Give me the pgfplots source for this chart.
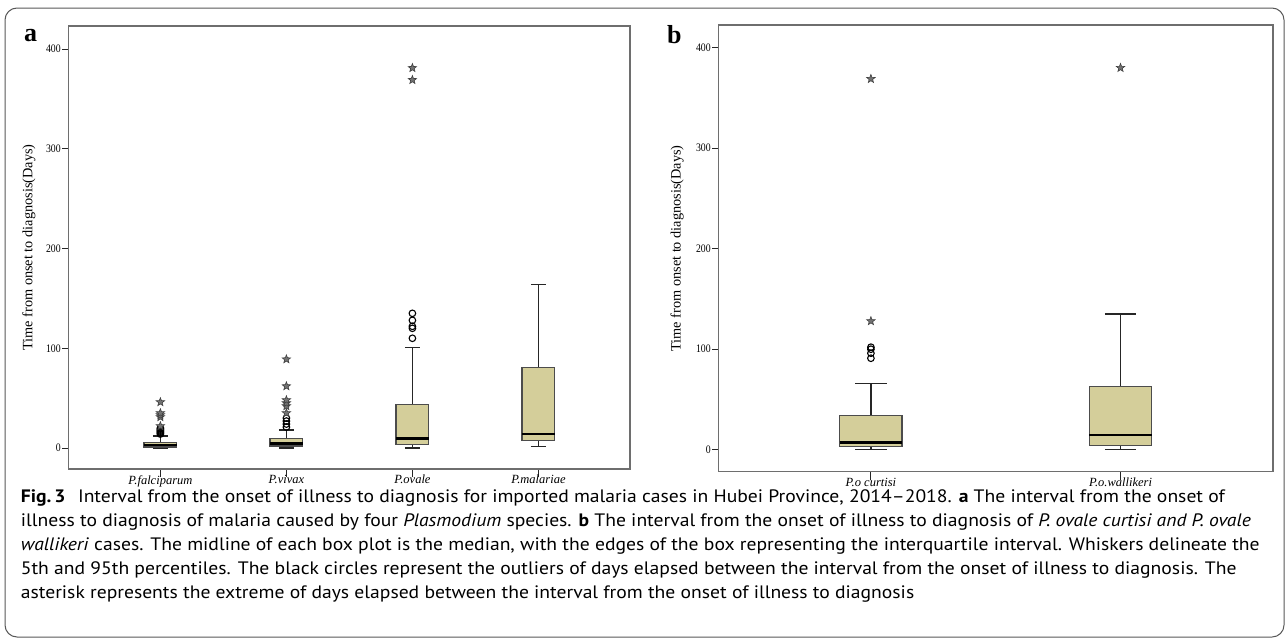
\documentclass[border=0pt]{standalone}
\usepackage{fontspec}
\usepackage{pgfplots}
\pgfplotsset{compat=1.18}
\usepgfplotslibrary{statistics}
\setmainfont{Liberation Serif}
\newfontfamily\capfont[FakeStretch=1.09]{PT Sans}
\newfontfamily\condserif[FakeStretch=0.85]{Liberation Serif}
\definecolor{boxfill}{RGB}{212,206,154}
\definecolor{frameg}{RGB}{110,110,110}

\pgfdeclareplotmark{fstar}{%
  \pgfpathmoveto{\pgfpointpolar{90}{\pgfplotmarksize}}%
  \pgfpathlineto{\pgfpointpolar{126}{0.42\pgfplotmarksize}}%
  \pgfpathlineto{\pgfpointpolar{162}{\pgfplotmarksize}}%
  \pgfpathlineto{\pgfpointpolar{198}{0.42\pgfplotmarksize}}%
  \pgfpathlineto{\pgfpointpolar{234}{\pgfplotmarksize}}%
  \pgfpathlineto{\pgfpointpolar{270}{0.42\pgfplotmarksize}}%
  \pgfpathlineto{\pgfpointpolar{306}{\pgfplotmarksize}}%
  \pgfpathlineto{\pgfpointpolar{342}{0.42\pgfplotmarksize}}%
  \pgfpathlineto{\pgfpointpolar{18}{\pgfplotmarksize}}%
  \pgfpathlineto{\pgfpointpolar{54}{0.42\pgfplotmarksize}}%
  \pgfpathclose
  \pgfusepathqfillstroke
}

\pgfplotsset{
  spss/.style={
    scale only axis,
    clip=false,
    axis line style={draw=frameg, line width=1.2pt},
    tick align=outside,
    xtick pos=bottom, ytick pos=left,
    ytick={0,100,200,300,400},
    major tick length=6pt,
    tick style={black!85, line width=0.9pt},
    xtick style={/pgfplots/major tick length=8pt},
    minor tick num=0,
    /pgf/number format/assume math mode=true,
    yticklabel style={font=\condserif\fontsize{11.5}{11.5}\selectfont, inner sep=1.5pt},
    xticklabel style={font=\itshape\fontsize{12.5}{12.5}\selectfont, inner sep=0pt},
    ylabel={Time from onset to diagnosis(Days)},
    boxplot/draw direction=y,
  },
  bx/.style={
    boxplot/draw direction=y,
    draw=black!85, line width=1.2pt,
    boxplot/box extend=0.26,
    boxplot/whisker extend=0.12,
    boxplot/every box/.style={fill=boxfill, draw=black!70, line width=1.3pt},
    boxplot/every median/.style={draw=black, line width=2.8pt},
  },
  outc/.style={only marks, mark=o, mark size=3.3pt, mark options={draw=black, line width=1.1pt}},
  outs/.style={only marks, mark=fstar, mark size=4.4pt, mark options={draw=black!75, fill=black!55, line width=0.6pt}},
}

\begin{document}
\begin{tikzpicture}
\useasboundingbox (0pt,0pt) rectangle (1287pt,-640pt);
\draw[frameg!80!black, line width=1pt, rounded corners=12pt] (5pt,-8pt) rectangle (1284pt,-637pt);

% Panel a
\begin{axis}[spss,
  at={(68.4pt,-469pt)}, anchor=south west,
  width=561.6pt, height=443pt,
  xmin=-0.73, xmax=3.727, ymin=-21.05, ymax=423.06,
  xtick={0,1,2,3},
  xticklabels={P.falciparum, P.vivax, P.ovale, P.malariae},
  ylabel style={at={(axis description cs:-0.0702,0.5)}, anchor=center, font=\fontsize{14.3}{14.3}\selectfont},
]
\addplot[bx, boxplot prepared={draw position=0, lower whisker=0, lower quartile=1, median=3, upper quartile=5.5, upper whisker=12}] coordinates {};
\addplot[bx, boxplot prepared={draw position=1, lower whisker=0, lower quartile=2, median=4.5, upper quartile=9.5, upper whisker=18}] coordinates {};
\addplot[bx, boxplot prepared={draw position=2, lower whisker=0, lower quartile=3.7, median=9.4, upper quartile=43.8, upper whisker=101}] coordinates {};
\addplot[bx, boxplot prepared={draw position=3, lower whisker=1.5, lower quartile=7.3, median=14, upper quartile=81, upper whisker=164}] coordinates {};
\addplot[outc] coordinates {(0,14) (0,15) (0,16) (0,17) (0,18) (0,19) (0,20)
  (1,21) (1,24) (1,27) (1,30)
  (2,110) (2,120) (2,122) (2,128) (2,135)};
\addplot[outs] coordinates {(0,22) (0,31) (0,33) (0,35) (0,46)
  (1,35) (1,42) (1,45) (1,48) (1,62) (1,89)
  (2,369) (2,381)};
\end{axis}

% Panel b
\begin{axis}[spss,
  at={(718.4pt,-471.7pt)}, anchor=south west,
  width=554.6pt, height=446.7pt,
  xmin=-0.611, xmax=1.611, ymin=-21.9, ymax=422.6,
  xtick={0,1},
  xticklabels={P.o curtisi, P.o.wallikeri},
  ylabel style={at={(axis description cs:-0.0746,0.5)}, anchor=center, font=\fontsize{14.3}{14.3}\selectfont},
]
\addplot[bx, boxplot/box extend=0.25, boxplot/whisker extend=0.125, boxplot prepared={draw position=0, lower whisker=0, lower quartile=3, median=7, upper quartile=34, upper whisker=66}] coordinates {};
\addplot[bx, boxplot/box extend=0.25, boxplot/whisker extend=0.125, boxplot prepared={draw position=1, lower whisker=0, lower quartile=4, median=14.6, upper quartile=62.7, upper whisker=135}] coordinates {};
\addplot[outc] coordinates {(0,91) (0,96) (0,100) (0,102)};
\addplot[outs] coordinates {(0,128) (0,369) (1,380)};
\end{axis}

\node[anchor=base west, inner sep=0pt, font=\bfseries\fontsize{26}{26}\selectfont] at (24pt,-41pt) {a};
\node[anchor=base west, inner sep=0pt, font=\bfseries\fontsize{26}{26}\selectfont] at (667pt,-43pt) {b};

\begin{scope}[every node/.style={anchor=base west, inner sep=0pt, font=\capfont\fontsize{18}{24}\selectfont}]
\node at (20.7pt,-502pt) {\textbf{Fig.\,3}\hspace{0.4em} Interval from the onset of illness to diagnosis for imported malaria cases in Hubei Province, 2014–2018. \textbf{a} The interval from the onset of};
\node at (20.7pt,-526pt) {illness to diagnosis of malaria caused by four \textit{Plasmodium} species. \textbf{b} The interval from the onset of illness to diagnosis of \textit{P. ovale curtisi and P. ovale}};
\node at (20.7pt,-550pt) {\textit{wallikeri} cases. The midline of each box plot is the median, with the edges of the box representing the interquartile interval. Whiskers delineate the};
\node at (20.7pt,-574pt) {5th and 95th percentiles. The black circles represent the outliers of days elapsed between the interval from the onset of illness to diagnosis. The};
\node at (20.7pt,-598pt) {asterisk represents the extreme of days elapsed between the interval from the onset of illness to diagnosis};
\end{scope}
\end{tikzpicture}
\end{document}
